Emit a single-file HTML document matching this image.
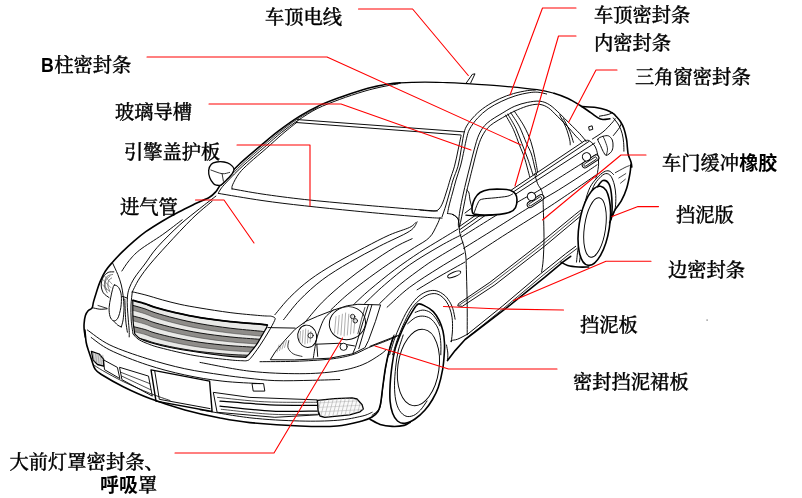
<!DOCTYPE html>
<html><head><meta charset="utf-8"><title>car</title>
<style>
html,body{margin:0;padding:0;background:#fff;}
body{width:802px;height:498px;overflow:hidden;position:relative;font-family:"Liberation Serif","Noto Serif CJK SC",serif;}
svg{position:absolute;left:0;top:0;display:block;will-change:transform}
svg path,svg ellipse,svg line,svg circle{stroke-linecap:round;stroke-linejoin:round}
.t{font-family:"Liberation Serif","Noto Serif CJK SC",serif;font-size:19.3px;fill:#000;font-weight:500;stroke:#000;stroke-width:0.35px}
.b{font-weight:900}
.bs2{font-family:"Liberation Sans","Noto Sans CJK SC",sans-serif;font-weight:bold;font-size:19px;stroke:none}
.bs{font-family:"Liberation Sans","Noto Sans CJK SC",sans-serif;font-weight:bold}
</style></head><body>
<svg width="802" height="498" viewBox="0 0 802 498">
<rect width="802" height="498" fill="#fff"/>
<path d="M85.3,337 C85.1,335.8 84.4,332.2 84.2,330 C84.0,327.8 83.9,326.0 84.1,323.6 C84.3,321.2 84.7,317.6 85.4,315.5 C86.1,313.4 87.0,312.1 88.1,310.8 C89.2,309.5 91.2,309.4 92.1,307.9 C93.0,306.4 92.8,304.4 93.5,301.9 C94.2,299.4 95.1,296.2 96.2,292.9 C97.3,289.6 98.4,285.7 99.9,282.1 C101.4,278.5 103.2,274.5 105.3,271.2 C107.4,267.9 109.6,265.5 112.5,262.2 C115.4,258.9 119.2,254.9 122.8,251.4 C126.4,247.9 130.5,244.2 134.3,240.9 C138.1,237.6 141.2,235.0 145.8,231.7 C150.5,228.4 156.7,224.5 162.2,221.2 C167.7,217.9 173.2,214.9 178.7,212 C184.2,209.1 190.0,206.3 195.1,203.8 C200.2,201.3 206.0,199.2 209.5,197.2 C213.0,195.1 214.1,193.7 216,191.5 C217.9,189.3 217.4,188.5 221,184.2 C224.6,179.9 231.2,172.0 237.7,165.7 C244.2,159.3 253.4,151.9 260.2,146.1 C267.0,140.3 271.7,136.1 278.3,131.1 C284.9,126.1 292.9,120.4 299.8,116.1 C306.7,111.8 313.1,108.5 319.7,105.4 C326.3,102.3 332.6,100.0 339.7,97.4 C346.8,94.8 356.2,91.7 362.1,89.9 C368.0,88.1 370.9,87.5 375,86.6 C379.1,85.7 382.8,84.9 387,84.3 C391.2,83.7 395.8,83.2 400,82.9" fill="none" stroke="#000" stroke-width="1.6"/>
<path d="M400,82.9 C404.2,82.6 407.8,82.4 412,82.3 C416.2,82.2 419.8,82.1 425,82.1 C430.2,82.1 436.8,82.3 443,82.5 C449.2,82.7 452.8,82.7 462.3,83.3 C471.8,83.9 487.3,84.8 499.8,85.9 C512.3,87.0 528.2,88.5 537.2,89.7 C546.2,90.9 548.9,91.8 554,93.3" fill="none" stroke="#000" stroke-width="1.25"/>
<path d="M554,93.3 C559.1,94.8 563.6,96.5 568,98.5 C572.4,100.5 576.4,103.2 580.2,105.5 C584.0,107.8 587.8,110.6 590.7,112.6 C593.6,114.6 595.7,116.4 597.7,117.6 C599.7,118.8 600.9,119.3 602.9,119.5 C604.9,119.7 608.7,118.9 609.9,118.8" fill="none" stroke="#000" stroke-width="1.6"/>
<path d="M218.4,192.9 C219.3,191.6 220.1,189.2 224.1,184.8 C228.1,180.4 235.4,172.8 242.2,166.5 C249.0,160.2 258.3,152.6 264.8,146.9 C271.3,141.2 275.8,137.0 281.3,132.6 C286.8,128.2 291.9,124.5 297.9,120.5 C303.9,116.5 310.2,112.1 317.2,108.6 C324.2,105.1 332.2,102.2 339.7,99.4 C347.2,96.6 356.2,93.7 362.1,91.9 C368.0,90.1 370.9,89.4 375,88.4 C379.1,87.4 383.2,86.5 387,85.8 C390.8,85.0 396.2,84.2 398,83.9" fill="none" stroke="#000" stroke-width="0.95" />
<path d="M221.5,185.5 C224.6,182.3 233.2,172.7 240,166.2 C246.8,159.7 255.9,152.2 262.5,146.5 C269.1,140.8 274.1,136.4 279.8,131.9 C285.6,127.4 290.6,123.5 297,119.3 C303.4,115.1 314.5,109.0 318,107" fill="none" stroke="#000" stroke-width="0.8" />
<path d="M232.1,189.2 C232.2,188.5 231.4,187.5 232.6,184.8 C233.8,182.2 236.3,177.0 239.2,173.3 C242.0,169.6 245.2,166.8 249.7,162.7 C254.2,158.5 260.8,153.3 266.3,148.4 C271.9,143.5 277.8,137.9 283,133.5 C288.2,129.1 294.9,123.9 297.3,122" fill="none" stroke="#000" stroke-width="0.95" />
<path d="M297.5,119.6 L464.5,131.9" fill="none" stroke="#000" stroke-width="0.95" />
<path d="M296.2,122.5 L460.8,135" fill="none" stroke="#000" stroke-width="0.95" />
<path d="M232.1,188.8 C237.1,189.7 249.9,192.2 262,194 C274.1,195.8 289.2,197.8 304.7,199.5 C320.2,201.2 338.9,202.9 354.8,204.3 C370.7,205.8 387.5,207.1 400,208.2 C412.5,209.2 423.8,210.1 430,210.6 C436.2,211.1 436.1,210.9 437.3,211" fill="none" stroke="#000" stroke-width="0.95" />
<path d="M218.4,193.4 C225.7,194.6 247.6,198.4 262,200.5 C276.4,202.6 289.2,204.1 304.7,205.8 C320.2,207.6 338.9,209.4 354.8,211 C370.7,212.6 387.5,214.1 400,215.2 C412.5,216.3 423.0,217.1 430,217.6 C437.0,218.1 440.0,218.1 442,218.2" fill="none" stroke="#000" stroke-width="0.95" />
<path d="M215.9,196.1 C213.2,198.2 205.7,203.8 199.7,208.6 C193.7,213.4 186.9,218.4 179.8,224.8 C172.7,231.2 163.1,240.8 157.3,247.3 C151.5,253.8 148.7,258.9 144.9,264.0 C141.1,269.1 137.0,273.9 134.4,278.0 C131.8,282.1 130.4,285.3 129.2,288.5 C128.0,291.7 127.7,294.0 127.4,297.2 C127.1,300.4 127.2,303.9 127.4,307.7 C127.6,311.5 128.0,316.1 128.3,319.9 C128.6,323.7 129.0,327.6 129.2,330.4 C129.3,333.2 129.2,335.8 129.2,336.9" fill="none" stroke="#000" stroke-width="0.95" />
<path d="M212.2,201.1 C208.9,204.0 199.7,211.3 192.2,218.6 C184.7,225.9 174.3,237.2 167.3,244.8 C160.3,252.4 154.8,258.5 150.2,264.0 C145.6,269.5 142.3,274.1 139.7,278.0 C137.1,281.9 135.6,285.3 134.4,287.6 C133.2,289.9 132.7,291.3 132.3,292.0" fill="none" stroke="#000" stroke-width="0.95" />
<path d="M182.2,219.8 C178.9,222.3 169.4,229.8 162.3,234.8 C155.2,239.8 145.2,245.7 139.7,250.0 C134.2,254.3 132.2,257.0 129.2,260.5 C126.2,264.0 123.1,269.2 121.9,271.0" fill="none" stroke="#000" stroke-width="0.95" />
<path d="M211.3,164.2 C212.6,162.8 214.5,162.4 216.6,162 C218.7,161.6 221.8,161.6 224.1,162 C226.3,162.4 228.5,163.1 230.1,164.2 C231.7,165.3 233.5,167.2 233.9,168.7 C234.3,170.2 233.5,171.5 232.4,173.3 C231.3,175.1 229.0,177.4 227.1,179.3 C225.2,181.2 222.8,183.8 221.1,184.8 C219.3,185.8 217.8,185.4 216.6,185.2 C215.3,185.0 214.7,185.0 213.6,183.8 C212.5,182.6 210.6,180.1 209.8,177.8 C209.0,175.5 208.4,172.5 208.7,170.2 C208.9,167.9 210.0,165.6 211.3,164.2Z" fill="#fff" stroke="#000" stroke-width="1.3" />
<path d="M210.9,170.0 C212.8,170.6 219.0,173.3 222.1,173.7 C225.2,174.1 228.3,172.6 229.6,172.4" fill="none" stroke="#000" stroke-width="0.8" />
<path d="M222.1,173.7 L223.4,181.2" fill="none" stroke="#000" stroke-width="0.8" />
<path d="M466.2,83.1 L472.3,74.4 L475.0,73.8 L470.6,83.1" fill="none" stroke="#000" stroke-width="0.95" />
<path d="M535.3,90.1 C534.0,90.2 531.0,90.0 527.4,90.6 C523.8,91.2 518.1,92.2 513.4,93.6 C508.7,95.0 504.0,96.6 499.4,98.8 C494.8,101.0 489.6,103.9 485.5,106.7 C481.4,109.5 478.1,112.3 475.0,115.5 C471.9,118.7 468.5,122.8 466.6,126.1 C464.7,129.4 464.5,131.1 463.6,135.1 C462.7,139.1 462.0,144.7 461.1,149.9 C460.2,155.1 459.4,161.2 458,166.2 C456.6,171.2 454.3,175.9 453,180 C451.7,184.1 451.2,186.8 450,191 C448.8,195.2 447.3,200.7 446,205 C444.7,209.3 442.7,215.0 442,217" fill="none" stroke="#000" stroke-width="0.95" />
<path d="M546.6,94.0 C545.1,93.7 540.8,92.4 537.9,92.2 C535.0,92.0 533.0,92.1 529.2,92.7 C525.4,93.3 519.9,94.4 515.2,95.9 C510.5,97.4 505.7,99.3 501.2,101.5 C496.7,103.7 492.0,106.0 488.1,108.8 C484.2,111.6 480.7,114.7 477.6,118.1 C474.5,121.5 471.4,125.8 469.6,129.1 C467.8,132.4 467.5,134.7 466.6,138.2 C465.7,141.7 465.1,145.3 464.1,149.9 C463.1,154.5 461.9,161.0 460.5,166 C459.1,171.0 457.3,175.5 456,180 C454.7,184.5 453.7,188.7 452.5,193 C451.3,197.3 449.8,202.6 449,206 C448.2,209.4 447.8,212.2 447.5,213.5" fill="none" stroke="#000" stroke-width="0.95" />
<path d="M447.5,213.5 C448.4,213.7 451.2,213.7 453,214.5 C454.8,215.3 457.0,217.6 458,218.5 C459.0,219.4 458.8,219.8 459,220" fill="none" stroke="#000" stroke-width="0.95" />
<path d="M585.9,141.1 C584.9,139.8 582.4,136.5 579.7,133.6 C577.0,130.7 573.0,126.9 569.7,123.6 C566.4,120.3 563.0,116.7 559.7,113.6 C556.4,110.5 553.0,107.0 549.7,104.9 C546.4,102.8 543.5,101.6 539.8,101.2 C536.1,100.8 531.5,101.6 527.3,102.4 C523.1,103.2 518.9,104.5 514.8,106.2 C510.7,107.9 507.5,110.0 502.9,112.8 C498.3,115.6 491.1,119.5 487.2,123.1 C483.2,126.6 481.4,129.6 479.2,134.1 C477.0,138.6 475.6,144.6 474.1,149.9 C472.6,155.2 471.3,161.0 470,166 C468.7,171.0 467.7,175.2 466.5,180 C465.3,184.8 464.1,190.0 463,195 C461.9,200.0 460.8,205.5 460,210 C459.2,214.5 458.8,219.2 458.5,222 C458.2,224.8 458.5,226.2 458.5,227" fill="none" stroke="#000" stroke-width="0.95" />
<path d="M582.1,142.3 C581.1,141.3 578.4,138.8 575.9,136.1 C573.4,133.4 570.3,129.4 567.2,126.1 C564.1,122.8 560.3,119.1 557.2,116.1 C554.1,113.1 551.4,109.9 548.5,107.9 C545.6,106.0 542.9,104.8 539.8,104.4 C536.7,104.0 533.5,104.5 529.8,105.4 C526.0,106.3 521.2,108.2 517.3,109.9 C513.4,111.6 510.9,112.9 506.4,115.5 C501.9,118.1 494.2,122.2 490.2,125.6 C486.2,129.0 484.4,132.0 482.2,136.1 C480.0,140.2 478.6,144.9 477.1,149.9 C475.6,154.9 474.3,161.0 473,166 C471.7,171.0 470.5,176.0 469.5,180 C468.5,184.0 467.9,185.8 467,190 C466.1,194.2 465.0,200.0 464,205 C463.0,210.0 461.8,216.3 461,220 C460.2,223.7 459.8,225.8 459.5,227" fill="none" stroke="#000" stroke-width="0.95" />
<path d="M461.1,135.6 C460.6,138.0 459.2,144.8 458.1,149.9 C457.0,155.0 455.9,161.2 454.5,166.2 C453.1,171.2 451.2,176.0 450,180 C448.8,184.0 448.2,186.3 447,190 C445.8,193.7 444.3,198.8 443,202 C441.7,205.2 440.5,207.5 439,209 C437.5,210.5 437.2,210.8 434,211 C430.8,211.2 422.3,210.2 420,210" fill="none" stroke="#000" stroke-width="0.95" />
<path d="M505.6,115.1 C506.9,117.5 511.1,124.4 513.4,129.4 C515.7,134.4 517.7,140.5 519.5,145.2 C521.3,149.9 522.7,152.2 524.4,157.5 C526.1,162.8 528.8,173.5 529.7,176.7" fill="none" stroke="#000" stroke-width="0.95" />
<path d="M507.8,114.1 C509.2,116.5 513.7,123.7 516.0,128.6 C518.3,133.5 519.8,138.3 521.8,143.4 C523.8,148.5 526.0,153.9 527.9,159.2 C529.8,164.5 532.2,172.4 533.1,175.0" fill="none" stroke="#000" stroke-width="0.95" />
<path d="M510.8,112.8 C512.2,115.1 516.9,121.7 519.5,126.8 C522.1,131.9 524.5,138.9 526.5,143.4 C528.5,147.9 530.0,149.9 531.4,154.0 C532.8,158.1 534.0,164.5 534.9,168.0 C535.8,171.5 536.3,173.8 536.6,175.0" fill="none" stroke="#000" stroke-width="0.95" />
<path d="M514.3,111.1 C515.9,113.6 521.1,120.8 523.9,125.9 C526.7,131.0 529.1,136.4 530.9,141.7 C532.7,147.0 533.8,152.5 534.9,157.5 C536.0,162.5 537.1,169.2 537.5,171.5" fill="none" stroke="#000" stroke-width="0.95" />
<path d="M534.6,173.9 C535.1,175.5 536.5,181.1 537.6,183.7 C538.7,186.3 540.1,187.4 541,189.5 C541.9,191.6 542.4,191.7 542.8,196 C543.2,200.3 543.3,208.2 543.5,215.1 C543.7,222.0 544.0,230.2 544,237.7 C544.0,245.1 543.6,254.1 543.2,259.8 C542.8,265.5 541.9,270.0 541.6,272" fill="none" stroke="#000" stroke-width="0.95" />
<path d="M582.0,106.6 C584.3,106.8 591.8,106.9 595.9,107.5 C600.0,108.1 603.5,109.1 606.4,110.1 C609.3,111.1 611.8,112.6 613.4,113.6 C615.0,114.6 614.8,114.9 616.0,116.2 C617.2,117.5 619.1,119.5 620.4,121.5 C621.7,123.5 622.9,125.6 623.9,128.5 C624.9,131.4 625.9,135.8 626.5,139.0 C627.1,142.2 627.1,145.1 627.4,147.7 C627.7,150.3 627.7,152.4 628.3,154.7 C628.9,157.0 630.3,159.7 630.9,161.7 C631.5,163.7 631.8,166.5 631.8,166.9 C631.8,167.3 631.3,163.0 631.0,164.0 C630.7,165.0 630.8,168.6 630.1,172.7 C629.4,176.8 628.1,183.8 626.6,188.5 C625.1,193.2 623.3,197.2 621.4,200.7 C619.5,204.2 617.0,206.5 615.3,209.4 C613.5,212.3 612.1,215.9 610.9,218.2 C609.7,220.5 608.7,222.5 608.3,223.4" fill="none" stroke="#000" stroke-width="1.6" />
<path d="M599.4,116.2 C600.9,115.9 606.0,115.1 608.2,114.5 C610.4,113.9 611.9,112.8 612.6,112.4" fill="none" stroke="#000" stroke-width="0.95" />
<path d="M613.4,118.0 C614.3,119.2 617.2,122.4 618.7,125.0 C620.2,127.6 621.4,130.8 622.2,133.7 C623.0,136.6 623.3,139.5 623.6,142.4 C623.9,145.3 623.9,149.7 623.9,151.2" fill="none" stroke="#000" stroke-width="0.95" />
<path d="M592.4,139.0 C594.1,137.8 599.7,134.6 602.9,132.0 C606.1,129.4 609.7,125.4 611.7,123.2 C613.8,121.0 614.6,119.5 615.2,118.8" fill="none" stroke="#000" stroke-width="0.95" />
<path d="M613.4,135.5 C614.4,134.2 618.2,129.7 619.5,127.6 C620.8,125.5 621.0,123.9 621.3,123.2" fill="none" stroke="#000" stroke-width="0.95" />
<path d="M597.8,139.2 C598.2,137.7 601.2,136.9 603,136.3 C604.8,135.8 607.0,135.3 608.5,135.9 C610.0,136.5 611.5,138.3 612.3,140 C613.0,141.7 613.1,144.1 613,146 C612.9,147.9 612.6,149.9 611.5,151.5 C610.4,153.1 607.7,155.3 606.3,155.3 C604.9,155.3 604.2,153.1 603.2,151.5 C602.2,149.9 601.4,147.6 600.5,145.5 C599.6,143.4 597.4,140.7 597.8,139.2Z" fill="none" stroke="#000" stroke-width="0.95" />
<path d="M603,136.3 C603.4,137.2 604.8,139.9 605.5,142 C606.2,144.1 607.4,146.8 607.5,149 C607.6,151.2 606.5,154.2 606.3,155.3" fill="none" stroke="#000" stroke-width="0.8" />
<path d="M589.0,126.7 L592.1,125.8 L592.8,129.3 L589.7,130.2Z" fill="none" stroke="#000" stroke-width="0.95" />
<path d="M559.7,114.9 C560.7,117.0 564.2,123.2 565.9,127.4 C567.6,131.6 569.0,136.9 569.7,139.8 C570.4,142.7 570.1,144.0 570.2,144.8" fill="none" stroke="#000" stroke-width="0.95" />
<path d="M563.4,118.6 C564.5,120.7 568.0,127.1 569.7,131.1 C571.4,135.1 572.8,140.4 573.4,142.3" fill="none" stroke="#000" stroke-width="0.95" />
<path d="M585.9,141.1 C586.4,141.0 587.3,139.7 588.8,140.5 C590.3,141.3 593.3,143.6 594.8,146 C596.3,148.4 597.2,152.1 597.8,155.1 C598.4,158.1 598.7,160.8 598.6,164.1 C598.5,167.3 597.6,172.3 597.1,174.6 C596.6,176.9 595.8,177.4 595.5,178" fill="none" stroke="#000" stroke-width="0.95" />
<path d="M459.5,226.5 L515,187.5 L585.8,140" fill="none" stroke="#000" stroke-width="0.95" />
<path d="M460,229.5 L515,190.8 L588.8,141.5" fill="none" stroke="#000" stroke-width="0.95" />
<path d="M461,232.5 L515,194.5 L594.8,143" fill="none" stroke="#000" stroke-width="0.95" />
<path d="M461.5,237 C470.8,231.2 503.6,210.6 517,202.5 C530.4,194.4 528.9,196.5 542.1,188.5 C555.3,180.5 587.3,160.0 596.3,154.3" fill="none" stroke="#000" stroke-width="0.95" />
<path d="M463.6,248.3 C468.9,245.0 484.9,235.1 495.2,228.7 C505.5,222.3 517.4,214.7 525.3,209.8 C533.2,204.9 536.9,202.8 542.4,199.5 C547.9,196.2 552.0,194.0 558.5,190 C565.0,186.0 574.9,179.6 581.3,175.4 C587.7,171.2 594.5,166.6 597.1,164.8" fill="none" stroke="#000" stroke-width="0.95" />
<path d="M466.6,259.8 C472.6,255.9 489.9,244.4 502.7,236.2 C515.5,228.0 532.1,217.9 543.4,210.6 C554.7,203.3 561.8,198.4 570.6,192.5 C579.4,186.6 591.8,177.9 596,175" fill="none" stroke="#000" stroke-width="0.95" />
<path d="M452.3,214.4 C453.1,214.9 455.7,216.0 456.8,217.4 C457.9,218.8 458.5,220.1 459,222.7 C459.5,225.3 459.0,229.4 459.8,233.2 C460.6,236.9 462.6,241.4 463.6,245.2 C464.6,249.0 465.3,251.0 465.8,256 C466.3,261.0 466.3,266.9 466.5,275 C466.7,283.1 467.1,294.9 467.2,304.8 C467.3,314.8 467.2,329.7 467.2,334.7" fill="none" stroke="#000" stroke-width="0.95" />
<path d="M458.7,303.5 L489.9,282.3 L539.8,243.6 L574.7,214.9 L580.9,210 L583.4,213.7 L544.7,246.1 L494.9,284.8 L462.4,306.3 L458.2,306Z" fill="none" stroke="#000" stroke-width="0.95" />
<path d="M459.5,305 L492,283.5 L542,245 L582,211.8" fill="none" stroke="#000" stroke-width="0.7" />
<path d="M467.6,334.2 L502.8,305.8 L540.5,273.9 L565.6,253.8 L575.7,246.3" fill="none" stroke="#000" stroke-width="0.95" />
<path d="M469.5,335.8 L505,307.2 L543,275.3 L567,256 L577,248.5" fill="none" stroke="#000" stroke-width="0.8" />
<path d="M447.5,360.6 L455.1,350.6 L465.1,339.5 L507.8,306.9 L545.5,276.7 L563.1,261.8 L570.7,256.3" fill="none" stroke="#000" stroke-width="1.6" />
<path d="M576.5,262.1 C576.9,259.2 577.3,252.0 578.7,245 C580.1,238.0 583.1,227.0 584.7,219.9 C586.3,212.8 586.8,207.9 588.2,202.4 C589.7,196.9 591.5,190.8 593.4,186.7 C595.3,182.6 597.5,180.2 599.5,178.0 C601.5,175.8 603.8,173.9 605.7,173.6 C607.6,173.3 609.5,174.3 610.9,176.2 C612.3,178.1 613.6,181.8 614.4,185.0 C615.2,188.2 615.6,191.7 615.8,195.5 C615.9,199.3 615.8,204.2 615.3,207.7 C614.8,211.2 613.1,214.9 612.7,216.4" fill="none" stroke="#000" stroke-width="0.95" />
<path d="M579.5,262 C579.8,259.2 581.1,252.0 581.5,245 C581.9,238.0 581.1,227.0 581.7,219.9 C582.3,212.8 583.6,207.8 585.0,202.4 C586.4,197.0 587.9,191.7 589.9,187.6 C591.9,183.5 594.6,180.6 596.9,178.0 C599.2,175.4 601.8,173.1 603.9,171.9 C606.0,170.7 607.6,170.6 609.2,171.0 C610.8,171.4 612.8,173.9 613.5,174.5" fill="none" stroke="#000" stroke-width="0.95" />
<ellipse cx="594.3" cy="225.8" rx="15.2" ry="40" fill="#fff" stroke="#000" stroke-width="1.6" transform="rotate(9 594.3 225.8)"/>
<ellipse cx="595" cy="227.5" rx="10.6" ry="30" fill="none" stroke="#000" stroke-width="0.95" transform="rotate(8 595 227.5)"/>
<path d="M597.5,186.6 C598.4,185.6 601.0,180.9 603.0,180.5 C605.0,180.1 607.7,181.5 609.2,184.4 C610.7,187.3 611.4,192.9 611.8,198.1 C612.2,203.3 612.2,211.7 611.8,215.8 C611.4,219.9 610.0,221.6 609.6,222.8" fill="none" stroke="#000" stroke-width="1.6" />
<path d="M561.0,262.1 C562.1,262.7 564.8,264.6 567.7,265.4 C570.7,266.2 575.2,266.7 578.7,267.0 C582.2,267.3 587.0,267.0 588.6,267.0" fill="none" stroke="#000" stroke-width="1.6" />
<path d="M615.3,172.7 C616.9,171.8 622.6,168.7 624.9,167.5 C627.2,166.3 628.6,166.0 629.3,165.7" fill="none" stroke="#000" stroke-width="0.8" />
<path d="M618.8,178.0 L625.8,173.6" fill="none" stroke="#000" stroke-width="0.7" />
<path d="M620.5,183.2 L625.4,179.2" fill="none" stroke="#000" stroke-width="0.7" />
<path d="M112.6,263.1 C113.5,265.0 116.3,270.9 117.8,274.5 C119.2,278.1 120.4,281.5 121.3,285.0 C122.2,288.5 122.6,291.7 123.1,295.5 C123.5,299.3 124.0,303.6 124.0,307.7 C124.0,311.8 123.5,316.7 123.1,319.9 C122.6,323.1 121.6,325.7 121.3,326.9" fill="none" stroke="#000" stroke-width="0.95" />
<path d="M113.8,271.9 C112.9,272.0 110.0,271.5 108.2,272.4 C106.5,273.3 104.5,275.0 103.3,277.1 C102.1,279.2 101.2,282.4 101.2,285.0 C101.2,287.6 102.0,290.7 103.3,292.8 C104.6,294.9 108.1,296.8 109.1,297.6" fill="none" stroke="#000" stroke-width="0.95" />
<path d="M112.6,274.5 C111.7,274.8 108.6,275.0 107.3,276.2 C106.0,277.4 105.1,279.6 104.7,281.5 C104.3,283.4 104.3,285.7 104.7,287.6 C105.1,289.5 106.9,291.9 107.3,292.8" fill="none" stroke="#444" stroke-width="0.7" />
<path d="M111.7,278.0 C111.2,278.4 109.2,279.3 108.6,280.6 C108.0,281.9 107.7,284.1 107.9,285.8 C108.1,287.5 109.3,289.8 109.6,290.6" fill="none" stroke="#444" stroke-width="0.7" />
<path d="M110.0,276.2 C109.3,276.8 106.9,278.2 106.1,279.7 C105.3,281.2 105.0,283.3 105.1,285.0 C105.2,286.7 106.3,289.1 106.5,289.9" fill="none" stroke="#444" stroke-width="0.7" />
<path d="M103.0,279.7 L110.8,287.6" fill="none" stroke="#555" stroke-width="0.6" />
<path d="M102.6,285.0 L110.0,292.0" fill="none" stroke="#555" stroke-width="0.6" />
<path d="M104.7,276.2 L112.1,284.1" fill="none" stroke="#555" stroke-width="0.6" />
<path d="M114.3,285.0 C115.3,284.7 117.5,285.9 118.7,287.6 C119.9,289.4 121.0,292.1 121.3,295.5 C121.6,298.9 121.4,303.9 120.8,307.7 C120.2,311.5 119.0,316.0 117.8,318.2 C116.6,320.4 114.8,321.1 113.5,320.8 C112.2,320.5 110.7,318.6 110.0,316.4 C109.3,314.2 109.0,310.9 109.1,307.7 C109.2,304.5 110.2,300.3 110.8,297.2 C111.4,294.1 112.0,291.3 112.6,289.3 C113.2,287.3 113.3,285.3 114.3,285.0Z" fill="none" stroke="#000" stroke-width="0.95" />
<path d="M92.3,307.7 C93.6,307.9 97.5,309.0 99.9,309.2 C102.4,309.4 105.8,308.9 107,308.8" fill="none" stroke="#000" stroke-width="0.95" />
<path d="M98,305.5 L107,308.3" fill="none" stroke="#000" stroke-width="0.8" />
<path d="M121.3,326.9 C120.7,326.6 119.1,326.2 117.8,325.2 C116.5,324.2 114.2,321.5 113.5,320.8" fill="none" stroke="#000" stroke-width="0.95" />
<path d="M122.2,296.3 L127.4,298.1" fill="none" stroke="#000" stroke-width="0.95" />
<path d="M124.8,299.0 C125.0,302.5 125.3,314.4 125.7,319.9 C126.1,325.4 127.1,330.1 127.4,332.2" fill="none" stroke="#000" stroke-width="0.95" />
<path d="M132.3,291.8 C134.4,292.3 139.9,293.5 144.9,294.8 C149.9,296.1 156.6,298.3 162.4,299.9 C168.2,301.5 173.6,302.9 179.9,304.3 C186.2,305.7 191.6,306.6 200,308 C208.4,309.4 220.1,311.3 230.1,312.6 C240.1,313.9 253.4,315.0 260.2,315.6 C267.0,316.2 269.2,316.0 271,316.1 L271,316.1 C271.6,316.4 274.0,316.9 274.6,317.6 C275.2,318.3 275.6,318.1 274.6,320.5 C273.6,322.9 270.9,327.8 268.4,332 C265.9,336.2 262.7,341.5 259.7,345.9 C256.7,350.3 252.6,355.9 250.5,358.3 C248.4,360.8 248.1,360.2 247,360.6 C245.9,361.0 244.4,360.8 243.9,360.8 L243.9,360.8 C241.6,360.6 238.1,360.8 229.9,359.9 C221.8,359.0 206.7,357.6 195,355.6 C183.3,353.6 168.2,349.8 160,347.7 C151.8,345.6 149.7,344.4 146,343 C142.3,341.6 140.2,340.5 138,339 C135.8,337.5 133.8,334.8 133,334 L133,334 C132.7,331.7 131.5,324.8 131.2,320 C130.9,315.2 130.8,309.7 131,305 C131.2,300.3 132.1,294.0 132.3,291.8Z" fill="#fff" stroke="#000" stroke-width="0.95"/>
<clipPath id="gc"><path d="M132.8,300.3 C134.8,300.9 141.2,302.4 144.9,303.6 C148.6,304.8 150.1,305.8 155.1,307.3 C160.1,308.8 167.7,310.9 175.2,312.6 C182.7,314.3 190.8,316.1 200,317.6 C209.2,319.1 220.1,320.5 230.1,321.6 C240.1,322.7 254.0,323.5 260.2,324.1 C266.4,324.7 266.1,324.9 267.3,325.1 L267.3,325.1 C267.1,325.6 267.2,326.4 266.3,328.1 C265.4,329.8 263.9,332.2 262.2,335.1 C260.5,338.0 258.4,342.1 256.2,345.2 C254.0,348.3 250.9,351.8 249.2,353.8 C247.4,355.8 246.3,356.7 245.7,357.3 L245.7,357.3 C243.1,357.1 237.5,357.2 229.9,356.4 C222.3,355.6 210.0,354.0 200,352.5 C190.0,351.0 178.3,349.2 170,347.5 C161.7,345.8 155.0,344.0 150,342.5 C145.0,341.0 142.5,339.9 140,338.5 C137.5,337.1 135.7,334.8 134.8,334 L134.8,334 C134.5,331.7 133.3,325.6 133,320 C132.7,314.4 132.8,303.6 132.8,300.3Z"/></clipPath>
<g clip-path="url(#gc)">
<path d="M132.8,300.3 C134.8,300.9 141.2,302.4 144.9,303.6 C148.6,304.8 150.1,305.8 155.1,307.3 C160.1,308.8 167.7,310.9 175.2,312.6 C182.7,314.3 190.8,316.1 200,317.6 C209.2,319.1 220.1,320.5 230.1,321.6 C240.1,322.7 254.0,323.5 260.2,324.1 C266.4,324.7 266.1,324.9 267.3,325.1 L267.3,325.1 C267.1,325.6 267.2,326.4 266.3,328.1 C265.4,329.8 263.9,332.2 262.2,335.1 C260.5,338.0 258.4,342.1 256.2,345.2 C254.0,348.3 250.9,351.8 249.2,353.8 C247.4,355.8 246.3,356.7 245.7,357.3 L245.7,357.3 C243.1,357.1 237.5,357.2 229.9,356.4 C222.3,355.6 210.0,354.0 200,352.5 C190.0,351.0 178.3,349.2 170,347.5 C161.7,345.8 155.0,344.0 150,342.5 C145.0,341.0 142.5,339.9 140,338.5 C137.5,337.1 135.7,334.8 134.8,334 L134.8,334 C134.5,331.7 133.3,325.6 133,320 C132.7,314.4 132.8,303.6 132.8,300.3Z" fill="#e9e9e7"/>
<path d="M132.8,305.37 C134.8,305.9 141.2,307.6 144.9,308.85 C148.6,310.1 150.1,311.1 155.1,312.71 C160.1,314.3 167.7,316.5 175.2,318.32 C182.7,320.2 190.8,322.1 200,323.71 C209.2,325.4 220.1,326.9 230.1,328.17 C240.1,329.4 254.0,330.5 260.2,331.14 C266.4,331.8 266.1,332.1 267.3,332.25 L267.3,337.15 C266.1,337.0 266.4,336.7 260.2,336.04 C254.0,335.4 240.1,334.3 230.1,333.07 C220.1,331.8 209.2,330.3 200,328.61 C190.8,327.0 182.7,325.1 175.2,323.22 C167.7,321.4 160.1,319.2 155.1,317.61 C150.1,316.0 148.6,315.0 144.9,313.75 C141.2,312.5 134.8,310.8 132.8,310.27Z" fill="#8f8d8a"/>
<path d="M132.8,305.37 C134.8,305.9 141.2,307.6 144.9,308.85 C148.6,310.1 150.1,311.1 155.1,312.71 C160.1,314.3 167.7,316.5 175.2,318.32 C182.7,320.2 190.8,322.1 200,323.71 C209.2,325.4 220.1,326.9 230.1,328.17 C240.1,329.4 254.0,330.5 260.2,331.14 C266.4,331.8 266.1,332.1 267.3,332.25" fill="none" stroke="#000" stroke-width="0.9" />
<path d="M132.8,310.27 C134.8,310.8 141.2,312.5 144.9,313.75 C148.6,315.0 150.1,316.0 155.1,317.61 C160.1,319.2 167.7,321.4 175.2,323.22 C182.7,325.1 190.8,327.0 200,328.61 C209.2,330.3 220.1,331.8 230.1,333.07 C240.1,334.3 254.0,335.4 260.2,336.04 C266.4,336.7 266.1,337.0 267.3,337.15" fill="none" stroke="#333" stroke-width="0.5" />
<path d="M132.8,315.91 C134.8,316.5 141.2,318.0 144.9,319.17 C148.6,320.3 150.1,321.4 155.1,322.84 C160.1,324.3 167.7,326.4 175.2,328.08 C182.7,329.8 190.8,331.5 200,333.0 C209.2,334.5 220.1,335.9 230.1,336.91 C240.1,338.0 254.0,338.8 260.2,339.32 C266.4,339.9 266.1,340.1 267.3,340.3 L267.3,345.2 C266.1,345.0 266.4,344.8 260.2,344.22 C254.0,343.7 240.1,342.9 230.1,341.81 C220.1,340.8 209.2,339.4 200,337.9 C190.8,336.4 182.7,334.7 175.2,332.98 C167.7,331.3 160.1,329.2 155.1,327.74 C150.1,326.3 148.6,325.2 144.9,324.07 C141.2,322.9 134.8,321.4 132.8,320.81Z" fill="#8f8d8a"/>
<path d="M132.8,315.91 C134.8,316.5 141.2,318.0 144.9,319.17 C148.6,320.3 150.1,321.4 155.1,322.84 C160.1,324.3 167.7,326.4 175.2,328.08 C182.7,329.8 190.8,331.5 200,333.0 C209.2,334.5 220.1,335.9 230.1,336.91 C240.1,338.0 254.0,338.8 260.2,339.32 C266.4,339.9 266.1,340.1 267.3,340.3" fill="none" stroke="#000" stroke-width="0.9" />
<path d="M132.8,320.81 C134.8,321.4 141.2,322.9 144.9,324.07 C148.6,325.2 150.1,326.3 155.1,327.74 C160.1,329.2 167.7,331.3 175.2,332.98 C182.7,334.7 190.8,336.4 200,337.9 C209.2,339.4 220.1,340.8 230.1,341.81 C240.1,342.9 254.0,343.7 260.2,344.22 C266.4,344.8 266.1,345.0 267.3,345.2" fill="none" stroke="#333" stroke-width="0.5" />
<path d="M132.8,326.45 C134.8,327.0 141.2,328.4 144.9,329.49 C148.6,330.6 150.1,331.6 155.1,332.97 C160.1,334.4 167.7,336.3 175.2,337.84 C182.7,339.4 190.8,341.0 200,342.3 C209.2,343.6 220.1,344.8 230.1,345.66 C240.1,346.5 254.0,347.1 260.2,347.51 C266.4,348.0 266.1,348.2 267.3,348.36 L267.3,353.26 C266.1,353.1 266.4,352.9 260.2,352.41 C254.0,352.0 240.1,351.4 230.1,350.56 C220.1,349.7 209.2,348.5 200,347.2 C190.8,345.9 182.7,344.3 175.2,342.74 C167.7,341.2 160.1,339.3 155.1,337.87 C150.1,336.5 148.6,335.5 144.9,334.39 C141.2,333.3 134.8,331.9 132.8,331.35Z" fill="#8f8d8a"/>
<path d="M132.8,326.45 C134.8,327.0 141.2,328.4 144.9,329.49 C148.6,330.6 150.1,331.6 155.1,332.97 C160.1,334.4 167.7,336.3 175.2,337.84 C182.7,339.4 190.8,341.0 200,342.3 C209.2,343.6 220.1,344.8 230.1,345.66 C240.1,346.5 254.0,347.1 260.2,347.51 C266.4,348.0 266.1,348.2 267.3,348.36" fill="none" stroke="#000" stroke-width="0.9" />
<path d="M132.8,331.35 C134.8,331.9 141.2,333.3 144.9,334.39 C148.6,335.5 150.1,336.5 155.1,337.87 C160.1,339.3 167.7,341.2 175.2,342.74 C182.7,344.3 190.8,345.9 200,347.2 C209.2,348.5 220.1,349.7 230.1,350.56 C240.1,351.4 254.0,352.0 260.2,352.41 C266.4,352.9 266.1,353.1 267.3,353.26" fill="none" stroke="#333" stroke-width="0.5" />
<path d="M132.8,336.99 C134.8,337.5 141.2,338.8 144.9,339.8 C148.6,340.8 150.1,341.8 155.1,343.1 C160.1,344.4 167.7,346.2 175.2,347.59 C182.7,349.0 190.8,350.5 200,351.6 C209.2,352.7 220.1,353.7 230.1,354.4 C240.1,355.1 254.0,355.4 260.2,355.69 C266.4,356.0 266.1,356.3 267.3,356.41 L267.3,361.31 C266.1,361.2 266.4,360.9 260.2,360.59 C254.0,360.3 240.1,360.0 230.1,359.3 C220.1,358.6 209.2,357.6 200,356.5 C190.8,355.4 182.7,353.9 175.2,352.49 C167.7,351.1 160.1,349.3 155.1,348.0 C150.1,346.7 148.6,345.7 144.9,344.7 C141.2,343.7 134.8,342.4 132.8,341.89Z" fill="#8f8d8a"/>
<path d="M132.8,336.99 C134.8,337.5 141.2,338.8 144.9,339.8 C148.6,340.8 150.1,341.8 155.1,343.1 C160.1,344.4 167.7,346.2 175.2,347.59 C182.7,349.0 190.8,350.5 200,351.6 C209.2,352.7 220.1,353.7 230.1,354.4 C240.1,355.1 254.0,355.4 260.2,355.69 C266.4,356.0 266.1,356.3 267.3,356.41" fill="none" stroke="#000" stroke-width="0.9" />
<path d="M132.8,341.89 C134.8,342.4 141.2,343.7 144.9,344.7 C148.6,345.7 150.1,346.7 155.1,348.0 C160.1,349.3 167.7,351.1 175.2,352.49 C182.7,353.9 190.8,355.4 200,356.5 C209.2,357.6 220.1,358.6 230.1,359.3 C240.1,360.0 254.0,360.3 260.2,360.59 C266.4,360.9 266.1,361.2 267.3,361.31" fill="none" stroke="#333" stroke-width="0.5" />
<path d="M132.8,347.53 C134.8,348.0 141.2,349.2 144.9,350.12 C148.6,351.1 150.1,352.0 155.1,353.22 C160.1,354.4 167.7,356.1 175.2,357.35 C182.7,358.6 190.8,359.9 200,360.9 C209.2,361.9 220.1,362.6 230.1,363.14 C240.1,363.6 254.0,363.7 260.2,363.88 C266.4,364.1 266.1,364.4 267.3,364.46 L267.3,369.36 C266.1,369.3 266.4,369.0 260.2,368.78 C254.0,368.6 240.1,368.5 230.1,368.04 C220.1,367.5 209.2,366.8 200,365.8 C190.8,364.8 182.7,363.5 175.2,362.25 C167.7,361.0 160.1,359.3 155.1,358.12 C150.1,356.9 148.6,356.0 144.9,355.02 C141.2,354.1 134.8,352.9 132.8,352.43Z" fill="#8f8d8a"/>
<path d="M132.8,347.53 C134.8,348.0 141.2,349.2 144.9,350.12 C148.6,351.1 150.1,352.0 155.1,353.22 C160.1,354.4 167.7,356.1 175.2,357.35 C182.7,358.6 190.8,359.9 200,360.9 C209.2,361.9 220.1,362.6 230.1,363.14 C240.1,363.6 254.0,363.7 260.2,363.88 C266.4,364.1 266.1,364.4 267.3,364.46" fill="none" stroke="#000" stroke-width="0.9" />
<path d="M132.8,352.43 C134.8,352.9 141.2,354.1 144.9,355.02 C148.6,356.0 150.1,356.9 155.1,358.12 C160.1,359.3 167.7,361.0 175.2,362.25 C182.7,363.5 190.8,364.8 200,365.8 C209.2,366.8 220.1,367.5 230.1,368.04 C240.1,368.5 254.0,368.6 260.2,368.78 C266.4,369.0 266.1,369.3 267.3,369.36" fill="none" stroke="#333" stroke-width="0.5" />
</g>
<path d="M132.8,300.3 C134.8,300.9 141.2,302.4 144.9,303.6 C148.6,304.8 150.1,305.8 155.1,307.3 C160.1,308.8 167.7,310.9 175.2,312.6 C182.7,314.3 190.8,316.1 200,317.6 C209.2,319.1 220.1,320.5 230.1,321.6 C240.1,322.7 254.0,323.5 260.2,324.1 C266.4,324.7 266.1,324.9 267.3,325.1 L267.3,325.1 C267.1,325.6 267.2,326.4 266.3,328.1 C265.4,329.8 263.9,332.2 262.2,335.1 C260.5,338.0 258.4,342.1 256.2,345.2 C254.0,348.3 250.9,351.8 249.2,353.8 C247.4,355.8 246.3,356.7 245.7,357.3 L245.7,357.3 C243.1,357.1 237.5,357.2 229.9,356.4 C222.3,355.6 210.0,354.0 200,352.5 C190.0,351.0 178.3,349.2 170,347.5 C161.7,345.8 155.0,344.0 150,342.5 C145.0,341.0 142.5,339.9 140,338.5 C137.5,337.1 135.7,334.8 134.8,334 L134.8,334 C134.5,331.7 133.3,325.6 133,320 C132.7,314.4 132.8,303.6 132.8,300.3Z" fill="none" stroke="#000" stroke-width="1.2"/>
<path d="M132.8,300.3 C134.8,300.9 141.2,302.4 144.9,303.6 C148.6,304.8 150.1,305.8 155.1,307.3 C160.1,308.8 167.7,310.9 175.2,312.6 C182.7,314.3 190.8,316.1 200,317.6 C209.2,319.1 220.1,320.5 230.1,321.6 C240.1,322.7 254.0,323.5 260.2,324.1 C266.4,324.7 266.1,324.9 267.3,325.1" fill="none" stroke="#000" stroke-width="1.8" />
<path d="M270.5,359.4 L275.7,351.2 L284.5,340.7 L295.0,329.3 L305.5,321.5 L317.7,316.2 L333.4,310.1 L347.4,305.7 L357.9,304.3 L380.6,304.9 L375.4,321.5 L368.4,340.7 L364.9,347.7 L352.7,353.8 L329.9,358.2 L295.0,359.9Z" fill="#fff" stroke="#000" stroke-width="0.95" />
<ellipse cx="347.4" cy="323.2" rx="18.2" ry="16.4" fill="#fff" stroke="#000" stroke-width="0.95" transform="rotate(-15 347.4 323.2)"/>
<ellipse cx="307.2" cy="336.3" rx="9.4" ry="11.2" fill="#fff" stroke="#000" stroke-width="0.95" transform="rotate(-10 307.2 336.3)"/>
<path d="M336.0,316.6 L334.5,333.0" fill="none" stroke="#777" stroke-width="0.6" />
<path d="M339.2,315.4 L337.7,334.0" fill="none" stroke="#777" stroke-width="0.6" />
<path d="M342.4,314.2 L340.9,335.0" fill="none" stroke="#777" stroke-width="0.6" />
<path d="M345.6,313.0 L344.1,336.0" fill="none" stroke="#777" stroke-width="0.6" />
<path d="M348.8,314.2 L347.3,335.0" fill="none" stroke="#777" stroke-width="0.6" />
<path d="M352.0,315.4 L350.5,334.0" fill="none" stroke="#777" stroke-width="0.6" />
<path d="M355.2,316.6 L353.7,333.0" fill="none" stroke="#777" stroke-width="0.6" />
<path d="M300.5,331.4 L299.7,342.0" fill="none" stroke="#777" stroke-width="0.6" />
<path d="M303.1,330.2 L302.3,343.0" fill="none" stroke="#777" stroke-width="0.6" />
<path d="M305.7,329.0 L304.9,344.0" fill="none" stroke="#777" stroke-width="0.6" />
<path d="M308.3,330.2 L307.5,343.0" fill="none" stroke="#777" stroke-width="0.6" />
<path d="M310.9,331.4 L310.09999999999997,342.0" fill="none" stroke="#777" stroke-width="0.6" />
<path d="M333.4,310.1 C331.9,311.4 327.0,314.6 324.7,318.0 C322.4,321.4 320.9,326.1 319.4,330.2 C317.9,334.3 316.9,337.7 315.9,342.4 C314.9,347.1 313.7,355.6 313.3,358.2" fill="none" stroke="#000" stroke-width="0.95" />
<path d="M368.4,304.9 L363.1,321.5 L355.3,347.7 L352.7,353.8" fill="none" stroke="#000" stroke-width="0.95" />
<path d="M371.9,304.9 L358.8,348.6" fill="none" stroke="#000" stroke-width="0.95" />
<path d="M364.9,307.5 L361.4,319.7 L357.9,333.7" fill="none" stroke="#000" stroke-width="0.7" />
<path d="M316.8,344.2 L338.7,343.3 L354.4,345.9" fill="none" stroke="#000" stroke-width="0.95" />
<path d="M316.8,344.2 L317.7,356.4" fill="none" stroke="#000" stroke-width="0.95" />
<circle cx="343.6" cy="346.8" r="3.6" fill="#fff" stroke="#000" stroke-width="0.9"/>
<circle cx="352.6" cy="316.5" r="2.2" fill="none" stroke="#000" stroke-width="0.8"/>
<circle cx="355.3" cy="320.8" r="2.2" fill="none" stroke="#000" stroke-width="0.8"/>
<circle cx="310.6" cy="335.5" r="2.6" fill="none" stroke="#000" stroke-width="0.8"/>
<path d="M288.8,340.7 C288.7,341.9 287.3,345.5 288.0,347.7 C288.7,349.9 290.9,352.4 293.2,353.8 C295.5,355.2 300.5,356.0 302.0,356.4" fill="none" stroke="#000" stroke-width="0.8" />
<path d="M267.9,327.6 L295.0,328.1" fill="none" stroke="#000" stroke-width="0.95" />
<path d="M277.0,352.0 L279.0,345.0" fill="none" stroke="#777" stroke-width="0.6" />
<path d="M279.5,350.5 L281.5,343.5" fill="none" stroke="#777" stroke-width="0.6" />
<path d="M282.0,349.0 L284.0,342.0" fill="none" stroke="#777" stroke-width="0.6" />
<path d="M284.5,347.5 L286.5,340.5" fill="none" stroke="#777" stroke-width="0.6" />
<path d="M274.9,314.7 C277.4,311.8 284.1,303.1 289.9,297.3 C295.7,291.5 302.3,285.4 309.8,279.8 C317.3,274.2 325.7,269.0 334.8,263.6 C343.9,258.2 355.6,252.2 364.7,247.4 C373.8,242.6 382.1,238.2 389.6,234.9 C397.1,231.6 405.2,229.5 409.6,227.4 C414.0,225.3 414.8,223.2 415.8,222.4" fill="none" stroke="#000" stroke-width="0.95" />
<path d="M417.1,221.9 C415.9,223.4 415.8,227.2 409.6,231.2 C403.4,235.2 389.7,240.9 379.7,246.1 C369.7,251.3 359.3,256.7 349.7,262.3 C340.1,267.9 330.6,273.6 322.3,279.8 C314.0,286.1 306.3,293.2 299.9,299.8 C293.4,306.4 286.3,316.4 283.6,319.7" fill="none" stroke="#000" stroke-width="0.95" />
<path d="M303.6,323.9 C306.7,320.3 315.5,309.1 322.3,302.2 C329.1,295.3 336.8,288.7 344.7,282.3 C352.6,275.9 361.4,269.4 369.7,263.6 C378.0,257.8 387.5,251.6 394.6,247.4 C401.7,243.2 409.2,240.1 412.1,238.7" fill="none" stroke="#000" stroke-width="0.95" />
<path d="M331,309.7 C333.7,307.2 340.8,300.2 347.2,294.8 C353.6,289.4 361.8,283.1 369.7,277.3 C377.6,271.5 387.1,264.9 394.6,259.9 C402.1,254.9 408.8,251.2 414.6,247.4 C420.4,243.7 425.8,241.2 429.5,237.4 C433.2,233.7 435.2,228.2 437,224.9 C438.8,221.6 439.5,218.7 440,217.5" fill="none" stroke="#000" stroke-width="0.95" />
<path d="M353.5,304.7 C356.2,302.2 362.8,295.6 369.7,289.8 C376.6,284.0 386.3,276.0 394.6,269.8 C402.9,263.6 412.0,257.4 419.6,252.4 C427.2,247.4 433.6,243.8 440,239.9 C446.4,236.0 455.0,230.8 458,229" fill="none" stroke="#000" stroke-width="0.95" />
<path d="M364.7,303.5 C368.0,300.4 377.1,291.2 384.6,284.8 C392.1,278.4 400.4,271.2 409.6,264.8 C418.8,258.4 431.4,251.1 440,246.1 C448.6,241.1 457.5,236.8 461,235" fill="none" stroke="#000" stroke-width="0.95" />
<path d="M379.7,303.5 C383.0,300.4 392.1,291.0 399.6,284.8 C407.1,278.6 417.8,270.9 424.5,266.1 C431.2,261.3 433.6,260.0 440,256.1 C446.4,252.2 459.2,244.8 463,242.5" fill="none" stroke="#000" stroke-width="0.95" />
<path d="M387.1,307.2 C390.9,303.9 400.8,293.9 409.6,287.3 C418.4,280.7 430.9,273.0 440,267.3 C449.1,261.6 460.0,255.4 464,253" fill="none" stroke="#000" stroke-width="0.95" />
<path d="M417.1,289.8 C420.9,287.5 432.0,280.7 440,276.1 C448.0,271.5 460.8,264.4 465,262" fill="none" stroke="#000" stroke-width="0.95" />
<path d="M389.6,354.8 C390.4,352.4 392.4,345.1 394.1,340.2 C395.9,335.3 397.8,330.2 400.1,325.2 C402.4,320.2 404.9,314.6 407.7,310.1 C410.5,305.6 413.7,301.1 416.7,298.1 C419.7,295.1 422.7,293.3 425.7,292 C428.7,290.7 432.0,290.2 434.8,290.5 C437.6,290.8 440.1,292.1 442.3,293.6 C444.6,295.1 446.6,297.1 448.3,299.6 C450.1,302.1 451.7,305.3 452.8,308.6 C453.9,311.9 454.7,317.4 455.1,319.2" fill="none" stroke="#000" stroke-width="0.95" />
<path d="M392.6,354.8 C393.4,352.4 395.4,345.1 397.1,340.2 C398.9,335.3 400.8,330.2 403.1,325.2 C405.4,320.2 408.2,314.1 410.7,310.1 C413.2,306.1 415.4,303.6 418.2,301.1 C420.9,298.6 424.4,296.4 427.2,295.1 C430.0,293.9 432.5,293.5 434.8,293.6 C437.1,293.7 438.9,294.6 440.8,295.8 C442.7,297.1 444.6,299.0 446.1,301.1 C447.6,303.2 448.8,305.8 449.8,308.6 C450.8,311.4 451.7,314.2 452.1,317.7 C452.6,321.2 452.6,325.7 452.5,329.7 C452.4,333.7 451.5,339.7 451.3,341.7" fill="none" stroke="#000" stroke-width="0.95" />
<path d="M418.2,304.1 C420.6,303.0 423.2,305.1 425.7,306.4 C428.2,307.6 431.0,309.2 433.3,311.6 C435.6,314.0 437.7,317.4 439.3,320.7 C440.9,324.0 442.1,327.4 443,331.2 C443.9,335.0 444.3,339.6 444.5,343.3 C444.7,347.0 444.6,348.8 444.3,353.1 C444.0,357.4 443.7,363.4 442.7,369.1 C441.7,374.8 440.0,382.1 438.3,387.2 C436.6,392.3 434.8,395.6 432.5,399.5 C430.2,403.4 427.7,407.1 424.8,410.3 C421.9,413.6 418.3,416.8 415,419 C411.7,421.2 407.9,423.0 405,423.3 C402.1,423.6 399.6,422.7 397.5,421 C395.4,419.3 393.8,416.6 392.6,413.3 C391.4,410.0 390.5,406.0 390.1,401.3 C389.7,396.6 389.8,391.2 390.1,385.2 C390.4,379.2 391.3,371.1 392.1,365.1 C392.9,359.1 393.8,354.1 395.1,349.1 C396.5,344.1 398.6,339.0 400.2,335 C401.8,331.0 402.7,328.8 404.6,325.2 C406.5,321.6 409.1,316.6 411.4,313.1 C413.7,309.6 415.8,305.2 418.2,304.1Z" fill="#fff" stroke="#000" stroke-width="1.6" />
<path d="M407.7,323.7 C408.9,322.7 412.7,319.0 415.2,317.7 C417.7,316.4 420.2,316.0 422.7,316.1 C425.2,316.2 427.9,316.9 430.2,318.4 C432.5,319.9 434.8,322.8 436.3,325.2 C437.8,327.6 438.6,329.7 439.3,332.7 C440.1,335.7 440.6,339.6 440.8,343.3 C441.1,347.0 440.8,352.9 440.8,354.8" fill="none" stroke="#000" stroke-width="0.95" />
<path d="M415.2,312.4 C416.4,312.0 420.2,310.1 422.7,310.1 C425.2,310.1 427.9,310.9 430.2,312.4 C432.5,313.9 434.7,316.9 436.3,319.2 C437.9,321.5 439.4,324.9 440,326" fill="none" stroke="#000" stroke-width="0.95" />
<path d="M403.2,335 C402.4,337.7 399.4,345.8 398.2,351.1 C396.9,356.5 396.3,361.4 395.7,367.1 C395.1,372.8 394.5,379.7 394.5,385.2 C394.5,390.7 394.9,395.8 395.7,400 C396.5,404.2 397.8,407.8 399.5,410.5 C401.2,413.2 403.7,415.4 406,416.2 C408.3,417.0 411.1,416.5 413.5,415.5 C415.9,414.5 418.2,412.4 420.5,410 C422.8,407.6 425.9,402.5 427,401" fill="none" stroke="#000" stroke-width="0.95" />
<ellipse cx="418.4" cy="367.5" rx="20.6" ry="38.5" fill="none" stroke="#000" stroke-width="0.95" transform="rotate(8 418.4 367.5)"/>
<path d="M370,419.3 C371.7,420.1 376.4,423.2 380.1,424.4 C383.8,425.6 388.1,426.2 392.1,426.4 C396.1,426.6 401.2,426.1 404.2,425.4 C407.2,424.7 409.2,422.8 410.2,422.3" fill="none" stroke="#000" stroke-width="1.6" />
<path d="M394.1,335 C393.4,337.0 391.4,342.0 390.1,347 C388.8,352.0 387.3,358.7 386.1,365.1 C384.9,371.5 383.9,379.2 383.1,385.2 C382.3,391.2 381.8,397.3 381.1,401.3 C380.4,405.3 380.6,407.0 379.1,409.3 C377.6,411.6 373.2,414.3 372,415.3" fill="none" stroke="#000" stroke-width="0.95" />
<path d="M370,346.3 L397.1,335.7" fill="none" stroke="#000" stroke-width="0.95" />
<path d="M451.3,341.7 C451.3,341.5 450.2,340.9 451.3,340.5 C452.4,340.1 454.9,340.2 457.6,339.2 C460.3,338.1 465.9,335.0 467.6,334.2" fill="none" stroke="#000" stroke-width="0.95" />
<path d="M446.5,345 C446.7,346.3 447.6,350.4 447.8,353 C448.0,355.6 447.6,359.3 447.5,360.6" fill="none" stroke="#000" stroke-width="0.95" />
<ellipse cx="454.2" cy="274.4" rx="7" ry="2.3" fill="none" stroke="#000" stroke-width="0.9" transform="rotate(-22 454.2 274.4)"/>
<path d="M84.9,330 C85.1,332.1 85.6,338.9 86.2,342.5 C86.8,346.1 87.9,348.7 88.8,351.5 C89.7,354.3 90.4,356.3 91.4,359.2 C92.4,362.1 93.3,366.3 94.9,368.8 C96.5,371.3 96.2,371.3 101,374.3 C105.8,377.3 115.5,383.0 123.7,387 C131.8,391.0 139.7,394.7 149.9,398.5 C160.1,402.3 173.2,406.6 184.9,409.9 C196.6,413.1 209.2,415.9 220,418 C230.8,420.1 236.6,421.3 249.9,422.6 C263.2,423.9 285.2,425.4 299.8,426 C314.4,426.6 326.8,426.8 337.2,426 C347.6,425.2 356.3,422.5 362.1,421 C367.9,419.5 369.4,418.6 372,417 C374.6,415.4 376.6,413.7 378,411.5 C379.4,409.3 379.7,407.9 380.5,404 C381.3,400.1 381.8,394.2 382.6,388 C383.5,381.8 384.4,373.5 385.6,367 C386.8,360.5 388.3,354.1 389.6,349 C390.9,343.9 392.9,338.6 393.6,336.5" fill="none" stroke="#000" stroke-width="1.6" />
<path d="M87.4,330 C91.2,332.5 99.9,340.2 109.9,345 C119.9,349.8 134.8,354.8 147.3,358.7 C159.8,362.6 172.2,366.0 184.7,368.7 C197.2,371.4 211.5,373.3 222.1,374.9 C232.7,376.5 239.2,377.2 248,378.2 C256.8,379.1 264.1,380.2 274.8,380.6 C285.5,381.0 301.4,380.5 312.2,380.3 C323.0,380.1 335.1,379.6 339.7,379.5" fill="none" stroke="#000" stroke-width="0.95" />
<path d="M91.2,337.5 C94.3,339.6 100.6,345.4 109.9,350.0 C119.2,354.6 134.8,360.8 147.3,364.9 C159.8,369.0 172.2,372.2 184.7,374.9 C197.2,377.6 209.5,379.7 222.1,381.1 C234.7,382.6 253.7,383.2 260.0,383.6" fill="none" stroke="#000" stroke-width="0.95" />
<path d="M200,362.4 C208.3,363.9 233.3,369.3 249.9,371.2 C266.5,373.1 285.2,373.7 299.8,373.7 C314.4,373.7 326.8,372.7 337.2,371.2 C347.6,369.7 355.0,367.6 362.1,364.9 C369.2,362.2 375.7,357.5 379.6,355 C383.6,352.5 384.8,350.8 385.8,350" fill="none" stroke="#000" stroke-width="0.95" />
<path d="M260,361.7 C265.8,361.6 283.4,361.7 295,361.3 C306.6,360.9 320.3,360.2 329.9,359.1 C339.5,358.0 346.3,356.6 352.7,354.7 C359.1,352.8 363.4,349.8 368.4,347.7 C373.3,345.6 378.3,344.0 382.4,342.4 C386.5,340.8 390.0,339.4 392.9,338.1 C395.8,336.8 398.8,335.2 400,334.6" fill="none" stroke="#000" stroke-width="0.95" />
<path d="M200.0,409.8 C208.3,411.1 233.3,415.9 249.9,417.8 C266.5,419.7 285.2,420.6 299.8,421.0 C314.4,421.4 326.8,421.1 337.2,420.3 C347.6,419.5 356.3,417.4 362.1,416.1 C367.9,414.8 370.4,412.9 372.1,412.3" fill="none" stroke="#000" stroke-width="0.95" />
<path d="M252.4,383.6 L263.6,383.6 L264.8,391.1 L253.6,391.1Z" fill="none" stroke="#000" stroke-width="0.95" />
<path d="M213.7,392.4 L249.9,397.4 L317.2,399.9 L318.5,414.8 L274.8,417.3 L217.5,412.3Z" fill="none" stroke="#000" stroke-width="0.95" />
<path d="M220.0,401.1 C228.3,401.7 253.6,404.1 269.8,404.8 C286.0,405.5 309.3,405.2 317.2,405.3" fill="none" stroke="#000" stroke-width="1.2" />
<path d="M220.0,406.1 C228.7,406.9 256.1,410.3 272.3,411.1 C288.5,411.9 309.7,411.1 317.2,411.1" fill="none" stroke="#000" stroke-width="1.2" />
<path d="M217.5,397.4 C225.4,398.1 248.2,401.0 264.8,401.8 C281.4,402.6 308.5,402.2 317.2,402.3" fill="none" stroke="#000" stroke-width="0.7" />
<path d="M221.2,409.3 C229.7,410.1 256.3,413.5 272.3,414.3 C288.3,415.1 309.7,414.3 317.2,414.3" fill="none" stroke="#000" stroke-width="0.7" />
<path d="M317.4,400.3 L334.7,398.6 L352,397.9 L357,399 L362.1,404.8 L363.3,409 L360,411.8 L349.6,414.8 L324.7,417.3 L320,416 L318.3,411Z" fill="#fafafa" stroke="#000" stroke-width="1.3" />
<clipPath id="tsc"><path d="M317.4,400.3 L334.7,398.6 L352,397.9 L357,399 L362.1,404.8 L363.3,409 L360,411.8 L349.6,414.8 L324.7,417.3 L320,416 L318.3,411Z"/></clipPath><g clip-path="url(#tsc)">
<path d="M322,396 L316,419" fill="none" stroke="#999" stroke-width="0.5" />
<path d="M326,396 L320,419" fill="none" stroke="#999" stroke-width="0.5" />
<path d="M330,396 L324,419" fill="none" stroke="#999" stroke-width="0.5" />
<path d="M334,396 L328,419" fill="none" stroke="#999" stroke-width="0.5" />
<path d="M338,396 L332,419" fill="none" stroke="#999" stroke-width="0.5" />
<path d="M342,396 L336,419" fill="none" stroke="#999" stroke-width="0.5" />
<path d="M346,396 L340,419" fill="none" stroke="#999" stroke-width="0.5" />
<path d="M350,396 L344,419" fill="none" stroke="#999" stroke-width="0.5" />
<path d="M354,396 L348,419" fill="none" stroke="#999" stroke-width="0.5" />
<path d="M358,396 L352,419" fill="none" stroke="#999" stroke-width="0.5" />
<path d="M362,396 L356,419" fill="none" stroke="#999" stroke-width="0.5" />
<path d="M366,396 L360,419" fill="none" stroke="#999" stroke-width="0.5" />
<path d="M316,403.0 L365,400.5" fill="none" stroke="#aaa" stroke-width="0.45" />
<path d="M316,407.5 L365,405.0" fill="none" stroke="#aaa" stroke-width="0.45" />
<path d="M316,412.0 L365,409.5" fill="none" stroke="#aaa" stroke-width="0.45" />
</g>
<path d="M151,369.9 L156,401.1 L212.1,411.5 L209.6,381.1Z" fill="none" stroke="#000" stroke-width="1.4" />
<path d="M154.8,371.4 L159.3,399.3 L210,408.6" fill="none" stroke="#000" stroke-width="0.95" />
<path d="M91.4,351.4 L99.2,354 L103.6,359.2 L103.6,366.2 L97.5,364.5 L93.1,360.1Z" fill="#d8d8d8" stroke="#000" stroke-width="1.3" />
<path d="M93.2,353.2 L94.2,361.5" fill="none" stroke="#777" stroke-width="0.5" />
<path d="M95.60000000000001,353.7 L96.60000000000001,362.4" fill="none" stroke="#777" stroke-width="0.5" />
<path d="M98.0,354.2 L99.0,363.3" fill="none" stroke="#777" stroke-width="0.5" />
<path d="M100.4,354.7 L101.4,364.2" fill="none" stroke="#777" stroke-width="0.5" />
<path d="M102.8,355.2 L103.8,365.1" fill="none" stroke="#777" stroke-width="0.5" />
<path d="M93.1,364.5 C94.7,365.5 97.6,367.7 102.7,370.6 C107.8,373.5 115.8,378.0 123.7,381.8 C131.6,385.6 142.2,390.2 149.9,393.3 C157.6,396.4 166.7,399.3 170,400.5" fill="none" stroke="#000" stroke-width="0.8" />
<path d="M103.6,359.9 L117.4,367.4 L119.9,378.6 L104.9,369.9Z" fill="none" stroke="#000" stroke-width="0.95" />
<path d="M119.9,367.4 L148.5,376.1 L152.3,396.1 L122.3,379.9Z" fill="none" stroke="#000" stroke-width="0.95" />
<path d="M121.1,372.4 L149.8,383.6" fill="none" stroke="#000" stroke-width="0.7" />
<path d="M121.8,376.1 L151.0,389.9" fill="none" stroke="#000" stroke-width="0.7" />
<g transform="translate(534 199.3) rotate(-33) scale(1.15)">
<rect x="-8" y="-0.5" width="16.5" height="5" rx="2.5" fill="#fff" stroke="#000" stroke-width="0.9"/>
<rect x="-6.5" y="1" width="13" height="2.2" rx="1.1" fill="none" stroke="#000" stroke-width="0.7"/>
<circle cx="-0.5" cy="-3.2" r="3.6" fill="#fff" stroke="#000" stroke-width="0.9"/>
</g>
<g transform="translate(589 159.6) rotate(-33) scale(1.15)">
<rect x="-8" y="-0.5" width="16.5" height="5" rx="2.5" fill="#fff" stroke="#000" stroke-width="0.9"/>
<rect x="-6.5" y="1" width="13" height="2.2" rx="1.1" fill="none" stroke="#000" stroke-width="0.7"/>
<circle cx="-0.5" cy="-3.2" r="3.6" fill="#fff" stroke="#000" stroke-width="0.9"/>
</g>
<path d="M467,190 C467.3,190.5 468.5,191.3 469,193 C469.5,194.7 469.5,197.5 470,200 C470.5,202.5 471.6,206.2 472,208 C472.4,209.8 472.4,210.5 472.5,211" fill="none" stroke="#000" stroke-width="0.95" />
<path d="M465,213 L471,208.5" fill="none" stroke="#000" stroke-width="0.95" />
<path d="M472.6,212.9 C472.1,211.5 471.9,208.5 472.3,206.1 C472.7,203.7 473.5,200.9 474.8,198.6 C476.1,196.3 477.7,194.0 480.1,192.5 C482.5,191.0 485.4,190.1 489.2,189.5 C493.0,188.9 499.2,189.1 502.7,189.2 C506.2,189.3 508.1,189.5 510.2,190.3 C512.3,191.1 514.4,192.4 515.5,194 C516.6,195.6 517.0,197.8 517,200.1 C517.0,202.4 516.6,205.6 515.5,207.6 C514.4,209.6 512.8,211.0 510.2,212.1 C507.6,213.2 504.0,213.9 499.7,214.4 C495.4,214.9 488.6,215.1 484.6,215.1 C480.6,215.1 477.6,214.8 475.6,214.4 C473.6,214.0 473.2,214.3 472.6,212.9Z" fill="#fff" stroke="#000" stroke-width="1.6" />
<path d="M474.1,212.9 C474.7,211.3 476.6,205.4 477.9,203.1 C479.1,200.8 478.7,200.2 481.6,199.3 C484.5,198.4 490.9,198.3 495.2,197.8 C499.5,197.3 504.3,196.9 507.2,196.3 C510.1,195.7 511.6,194.4 512.5,194" fill="none" stroke="#000" stroke-width="0.95" />
<path d="M466,215.2 C467.7,215.3 472.7,215.7 476,215.8 C479.3,215.9 483.3,215.7 486,215.6 C488.7,215.5 491.0,215.3 492,215.2" fill="none" stroke="#000" stroke-width="1.3" />
<rect x="706.5" y="319.5" width="1.2" height="1.2" fill="#666"/>
<path d="M358.5,9 L412.6,9 L468.3,75.5" fill="none" stroke="#f00" stroke-width="1.1" />
<path d="M147,57 L327,57 L521,145" fill="none" stroke="#f00" stroke-width="1.1" />
<path d="M209,104 L341,104 L471,150" fill="none" stroke="#f00" stroke-width="1.1" />
<path d="M237,145 L310,145 L310,206" fill="none" stroke="#f00" stroke-width="1.1" />
<path d="M195.5,200 L224,200 L254,243" fill="none" stroke="#f00" stroke-width="1.1" />
<path d="M576,8 L542.5,8 L510,95" fill="none" stroke="#f00" stroke-width="1.1" />
<path d="M576,36 L558.5,36 L515,186" fill="none" stroke="#f00" stroke-width="1.1" />
<path d="M617,70 L596,70 L568.5,122.5" fill="none" stroke="#f00" stroke-width="1.1" />
<path d="M646,155 L621,155 L542.5,220" fill="none" stroke="#f00" stroke-width="1.1" />
<path d="M658.5,206.6 L638,206.6 L612,216.5" fill="none" stroke="#f00" stroke-width="1.1" />
<path d="M651,261.3 L606,261.3 L513.5,300.5" fill="none" stroke="#f00" stroke-width="1.1" />
<path d="M563.5,310 L500,309 L443.5,306.5" fill="none" stroke="#f00" stroke-width="1.1" />
<path d="M557,369 L448.5,369 L375,346" fill="none" stroke="#f00" stroke-width="1.1" />
<path d="M175,453 L274,453 L342.5,338" fill="none" stroke="#f00" stroke-width="1.1" />
<text x="265" y="24" class="t">车顶电线</text>
<text x="41" y="72" class="bs" font-size="20.5" textLength="12.8" lengthAdjust="spacingAndGlyphs">B</text>
<text x="54.2" y="72" class="t">柱密封条</text>
<text x="115" y="119" class="t">玻璃导槽</text>
<text x="124" y="159" class="t">引擎盖护板</text>
<text x="120" y="214" class="t">进气管</text>
<text x="594" y="22" class="t">车顶密封条</text>
<text x="594" y="50" class="t">内密封条</text>
<text x="635" y="84" class="t">三角窗密封条</text>
<text x="662" y="170" class="t">车门缓冲<tspan class="bs2">橡胶</tspan></text>
<text x="676" y="222" class="t">挡泥版</text>
<text x="668" y="277" class="t">边密封条</text>
<text x="580" y="331.5" class="t">挡泥板</text>
<text x="573" y="388.5" class="t">密封挡泥裙板</text>
<text x="9.5" y="469" class="t">大前灯罩密封条、</text>
<text x="100" y="492" class="t"><tspan class="bs2">呼吸</tspan>罩</text>
</svg>
</body></html>
